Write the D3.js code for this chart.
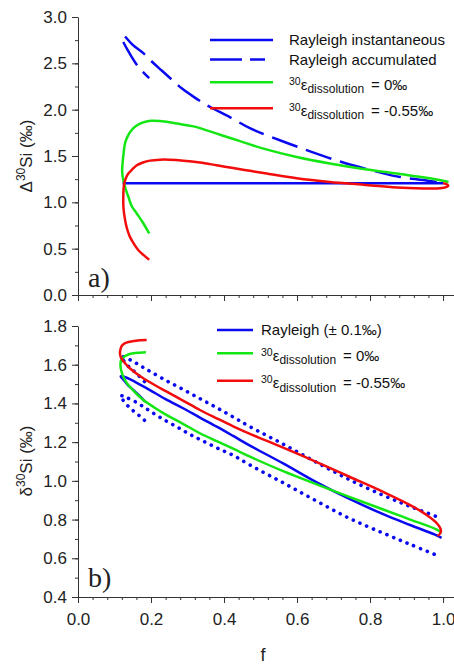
<!DOCTYPE html>
<html>
<head>
<meta charset="utf-8">
<script src="https://cdn.jsdelivr.net/npm/d3@7"></script>
<style>
  body { margin: 0; background: #fff; }
  svg { display: block; font-family: "Liberation Sans", Arial, sans-serif; }
</style>
</head>
<body>
<div id="chart"></div>
<script>
(function() {
  'use strict';

// ---- panel a) : Delta30Si vs f ----
const aInstF = [0.122, 1.0];
const aInstD = [1.205, 1.205];

const aAccUpF = [0.129, 0.150, 0.179, 0.202, 0.230, 0.261, 0.284, 0.320, 0.348, 0.371, 0.416, 0.471, 0.553, 0.636, 0.718, 0.800, 0.873, 0.946, 1.000];
const aAccUpD = [2.79, 2.70, 2.61, 2.52, 2.42, 2.31, 2.23, 2.13, 2.06, 2.01, 1.92, 1.80, 1.67, 1.55, 1.44, 1.35, 1.28, 1.24, 1.21];
const aAccLowF = [0.124, 0.135, 0.147, 0.160, 0.175, 0.195];
const aAccLowD = [2.73, 2.65, 2.57, 2.49, 2.42, 2.34];

const aGreenF = [0.195, 0.178, 0.161, 0.147, 0.138, 0.130, 0.124, 0.121, 0.122, 0.125, 0.129, 0.137, 0.147, 0.158, 0.170, 0.185, 0.202, 0.243, 0.270, 0.316, 0.389, 0.444, 0.508, 0.599, 0.690, 0.782, 0.873, 0.964, 1.015];
const aGreenD = [0.665, 0.78, 0.88, 0.96, 1.06, 1.15, 1.24, 1.33, 1.42, 1.53, 1.64, 1.72, 1.78, 1.82, 1.85, 1.87, 1.88, 1.87, 1.85, 1.82, 1.73, 1.66, 1.58, 1.49, 1.42, 1.36, 1.31, 1.26, 1.22];

const aRedF = [0.195, 0.180, 0.165, 0.152, 0.142, 0.134, 0.129, 0.125, 0.124, 0.126, 0.131, 0.138, 0.150, 0.161, 0.178, 0.197, 0.225, 0.250, 0.289, 0.334, 0.380, 0.425, 0.471, 0.517, 0.599, 0.690, 0.782, 0.873, 0.946, 0.985, 1.005, 1.014, 1.012, 1.000];
const aRedD = [0.38, 0.43, 0.485, 0.56, 0.63, 0.72, 0.81, 0.92, 1.02, 1.19, 1.26, 1.31, 1.36, 1.40, 1.43, 1.45, 1.46, 1.46, 1.45, 1.43, 1.40, 1.37, 1.34, 1.31, 1.26, 1.22, 1.19, 1.16, 1.15, 1.15, 1.16, 1.175, 1.19, 1.205];

// ---- panel b) : delta30Si vs f ----
const bBlueF = [0.184, 0.168, 0.152, 0.138, 0.129, 0.121, 0.117, 0.119, 0.126, 0.142, 0.170, 0.197, 0.240, 0.288, 0.334, 0.380, 0.425, 0.471, 0.562, 0.654, 0.745, 0.836, 0.910, 0.978, 0.996];
const bBlueV = [1.409, 1.440, 1.469, 1.492, 1.512, 1.530, 1.540, 1.542, 1.538, 1.525, 1.497, 1.469, 1.422, 1.375, 1.327, 1.280, 1.232, 1.182, 1.090, 0.992, 0.905, 0.828, 0.772, 0.722, 0.705];

const bUpF = [0.182, 0.168, 0.152, 0.138, 0.129, 0.121, 0.118, 0.122, 0.130, 0.152, 0.175, 0.197, 0.240, 0.288, 0.334, 0.380, 0.425, 0.471, 0.562, 0.654, 0.745, 0.836, 0.910, 0.992];
const bUpV = [1.513, 1.540, 1.569, 1.592, 1.612, 1.630, 1.640, 1.642, 1.636, 1.616, 1.590, 1.566, 1.520, 1.472, 1.425, 1.378, 1.330, 1.280, 1.190, 1.095, 1.005, 0.925, 0.868, 0.808];

const bLowF = [0.182, 0.168, 0.152, 0.138, 0.127, 0.119, 0.115, 0.119, 0.130, 0.152, 0.175, 0.193, 0.229, 0.270, 0.307, 0.343, 0.384, 0.425, 0.471, 0.562, 0.654, 0.745, 0.836, 0.910, 0.987];
const bLowV = [1.313, 1.337, 1.361, 1.385, 1.408, 1.428, 1.437, 1.440, 1.432, 1.414, 1.388, 1.366, 1.323, 1.280, 1.240, 1.205, 1.167, 1.132, 1.082, 0.990, 0.895, 0.805, 0.730, 0.672, 0.612];

const bGreenF = [0.186, 0.170, 0.152, 0.138, 0.129, 0.121, 0.117, 0.117, 0.120, 0.124, 0.132, 0.142, 0.160, 0.179, 0.210, 0.243, 0.290, 0.334, 0.380, 0.425, 0.471, 0.562, 0.654, 0.745, 0.836, 0.910, 0.983, 0.996];
const bGreenV = [1.664, 1.662, 1.659, 1.653, 1.645, 1.632, 1.616, 1.582, 1.560, 1.538, 1.510, 1.486, 1.450, 1.418, 1.378, 1.340, 1.292, 1.246, 1.205, 1.166, 1.125, 1.050, 0.982, 0.916, 0.852, 0.800, 0.748, 0.731];

const bRedF = [0.188, 0.170, 0.152, 0.138, 0.129, 0.121, 0.117, 0.115, 0.117, 0.122, 0.130, 0.142, 0.160, 0.179, 0.210, 0.243, 0.290, 0.334, 0.380, 0.425, 0.471, 0.562, 0.654, 0.745, 0.836, 0.910, 0.955, 0.983, 0.994, 0.992, 0.985];
const bRedV = [1.728, 1.727, 1.722, 1.717, 1.711, 1.700, 1.685, 1.659, 1.640, 1.624, 1.605, 1.582, 1.555, 1.530, 1.495, 1.461, 1.412, 1.366, 1.323, 1.282, 1.243, 1.172, 1.097, 1.020, 0.943, 0.875, 0.824, 0.781, 0.746, 0.728, 0.715];

// ticks
const xMajor = [0, 0.2, 0.4, 0.6, 0.8, 1.0];
const xMinor = d3.range(0, 26).map(i => i * 0.04);
const aYMajor = [0, 0.5, 1.0, 1.5, 2.0, 2.5, 3.0];
const aYMinor = d3.range(0, 13).map(i => i * 0.25);
const bYMajor = [0.4, 0.6, 0.8, 1.0, 1.2, 1.4, 1.6, 1.8];
const bYMinor = d3.range(0, 15).map(i => 0.4 + i * 0.1);

const W = 454;
const H = 664;
const BLUE = "#0a0af0";
const GREEN = "#14e614";
const RED = "#f20c0c";
const AXIS = "#333";

const x = d3.scaleLinear().domain([0, 1.03]).range([78, 454]);
const yA = d3.scaleLinear().domain([0, 3]).range([295, 17]);
const yB = d3.scaleLinear().domain([0.4, 1.8]).range([597, 326]);

const svg = d3.select("#chart")
  .append("svg")
    .attr("width", W)
    .attr("height", H);

svg.append("rect").attr("width", W).attr("height", H).attr("fill", "#fff");

function zip(fs, vs) {
  return fs.map((f, i) => [f, vs[i]]);
}

function drawAxes(y, yMajor, yMinor, bottom, xLabels) {
  const g = svg.append("g");

  const yMin = g.append("g")
    .attr("transform", "translate(78,0)")
    .call(d3.axisLeft(y).tickValues(yMinor).tickSize(3).tickSizeOuter(0).tickFormat(""));
  yMin.select(".domain").remove();

  g.append("g")
    .attr("transform", "translate(78,0)")
    .call(d3.axisLeft(y).tickValues(yMajor).tickSize(6).tickSizeOuter(0).tickPadding(5)
      .tickFormat(d3.format(".1f")));

  const xMin = g.append("g")
    .attr("transform", `translate(0,${bottom})`)
    .call(d3.axisBottom(x).tickValues(xMinor).tickSize(3).tickSizeOuter(0).tickFormat(""));
  xMin.select(".domain").remove();

  g.append("g")
    .attr("transform", `translate(0,${bottom})`)
    .call(d3.axisBottom(x).tickValues(xMajor).tickSize(6).tickSizeOuter(0).tickPadding(10)
      .tickFormat(xLabels ? d3.format(".1f") : ""));

  g.selectAll(".domain, .tick line").attr("stroke", AXIS);
  g.selectAll(".tick text").attr("font-size", 17).attr("fill", "#222")
    .attr("font-family", "'Liberation Sans', Arial, sans-serif");
}

drawAxes(yA, aYMajor, aYMinor, 295, false);
drawAxes(yB, bYMajor, bYMinor, 597, true);

function curve(y, fs, vs, color, dash) {
  const line = d3.line()
    .x(d => x(d[0]))
    .y(d => y(d[1]))
    .curve(d3.curveCatmullRom.alpha(0.5));
  const p = svg.append("path")
    .datum(zip(fs, vs))
    .attr("d", line)
    .attr("fill", "none")
    .attr("stroke", color)
    .attr("stroke-width", 2.5);
  if (dash === "dash") p.attr("stroke-dasharray", "27,9");
  if (dash === "dot") {
    p.attr("stroke-dasharray", "0.1,7.2")
     .attr("stroke-linecap", "round")
     .attr("stroke-width", 3.6);
  }
  return p;
}

// panel a
curve(yA, aInstF, aInstD, BLUE);
curve(yA, aAccUpF, aAccUpD, BLUE, "dash");
curve(yA, aAccLowF, aAccLowD, BLUE, "dash");
curve(yA, aGreenF, aGreenD, GREEN);
curve(yA, aRedF, aRedD, RED);

// panel b
curve(yB, bUpF, bUpV, BLUE, "dot");
curve(yB, bLowF, bLowV, BLUE, "dot");
curve(yB, bBlueF, bBlueV, BLUE);
curve(yB, bGreenF, bGreenV, GREEN);
curve(yB, bRedF, bRedV, RED);

// legends
function legendLine(x0, x1, y, color, dash) {
  const l = svg.append("line")
    .attr("x1", x0).attr("x2", x1).attr("y1", y).attr("y2", y)
    .attr("stroke", color).attr("stroke-width", 2.5);
  if (dash) l.attr("stroke-dasharray", "32,8");
}

function plainLabel(tx, y, label) {
  svg.append("text")
    .attr("x", tx).attr("y", y + 5)
    .attr("font-size", 15).attr("fill", "#111")
    .text(label);
}

function epsLabel(tx, y, value) {
  const t = svg.append("text").attr("x", tx).attr("fill", "#111");
  t.append("tspan").attr("y", y + 2.5).attr("font-size", 10.5).text("30");
  t.append("tspan").attr("y", y + 7.5).attr("font-size", 15).text("\u03b5");
  t.append("tspan").attr("y", y + 11).attr("font-size", 12).text("dissolution");
  t.append("tspan").attr("y", y + 7.5).attr("dx", 7).attr("font-size", 15).text("= " + value);
}

legendLine(210, 273, 40, BLUE);
plainLabel(289, 40, "Rayleigh instantaneous");
legendLine(210, 265, 59.5, BLUE, true);
plainLabel(289, 59.5, "Rayleigh accumulated");
legendLine(210, 273, 82.3, GREEN);
epsLabel(289, 82.3, "0\u2030");
legendLine(210, 273, 108.3, RED);
epsLabel(289, 108.3, "-0.55\u2030");

legendLine(217, 253, 330, BLUE);
plainLabel(261, 330, "Rayleigh (\u00b1 0.1\u2030)");
legendLine(217, 253, 353.3, GREEN);
epsLabel(261, 353.3, "0\u2030");
legendLine(217, 253, 380.7, RED);
epsLabel(261, 380.7, "-0.55\u2030");

// axis titles
function yTitle(cx, cy, sym) {
  const t = svg.append("text")
    .attr("transform", `translate(${cx},${cy}) rotate(-90)`)
    .attr("text-anchor", "middle")
    .attr("font-size", 17)
    .attr("fill", "#222");
  t.append("tspan").text(sym);
  t.append("tspan").attr("dy", -7).attr("font-size", 12).text("30");
  t.append("tspan").attr("dy", 7).text("Si (\u2030)");
}
yTitle(32, 156, "\u0394");
yTitle(32, 461, "\u03b4");

svg.append("text")
  .attr("x", 263).attr("y", 661)
  .attr("text-anchor", "middle")
  .attr("font-size", 18).attr("fill", "#222")
  .text("f");

// panel letters
svg.append("text")
  .attr("x", 88).attr("y", 287)
  .attr("font-family", "'Liberation Serif', 'Times New Roman', serif")
  .attr("font-size", 28).attr("fill", "#222")
  .text("a)");
svg.append("text")
  .attr("x", 88).attr("y", 587)
  .attr("font-family", "'Liberation Serif', 'Times New Roman', serif")
  .attr("font-size", 28).attr("fill", "#222")
  .text("b)");

})();
</script>
</body>
</html>
